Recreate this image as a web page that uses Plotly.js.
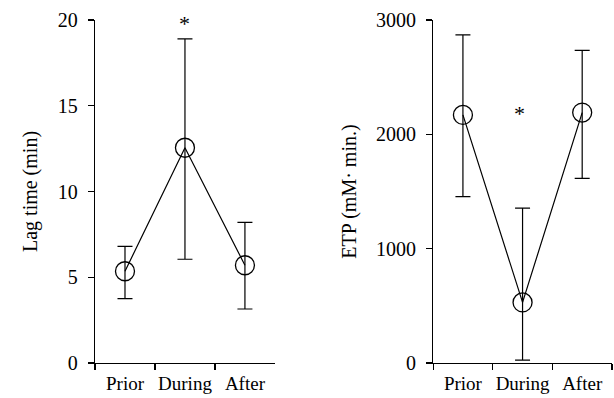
<!DOCTYPE html>
<html>
<head>
<meta charset="utf-8">
<script src="https://cdn.plot.ly/plotly-3.0.1.min.js"></script>
<style>html,body{margin:0;padding:0;background:#fff;}#chart{width:614px;height:398px;}</style>
</head>
<body>
<div id="chart"></div>
<script>
// Categories
const periods = ["Prior", "During", "After"];

// Left panel: Lag time (min)
const lagMean = [5.35, 12.55, 5.7];
const lagErrPlus = [1.45, 6.35, 2.5];
const lagErrMinus = [1.6, 6.5, 2.55];

// Right panel: ETP (mM·min.)
const etpMean = [2170, 530, 2190];
const etpErrPlus = [700, 825, 545];
const etpErrMinus = [715, 505, 575];

// Significance marks
const sigLabel = "*";
const lagSigY = 19.8;
const etpSigY = 2180;

const FONT = "Liberation Serif, Times New Roman, serif";

function makeTrace(y, ep, em, xa, ya) {
  return {
    type: "scatter", mode: "lines+markers",
    x: periods, y: y, xaxis: xa, yaxis: ya,
    line: {color: "#000", width: 1.2},
    marker: {symbol: "circle-open", size: 19, color: "#000", line: {width: 1.3, color: "#000"}},
    error_y: {type: "data", symmetric: false, array: ep, arrayminus: em,
              color: "#000", thickness: 1.2, width: 7.5},
    showlegend: false, hoverinfo: "skip"
  };
}

const data = [
  makeTrace(lagMean, lagErrPlus, lagErrMinus, "x", "y"),
  makeTrace(etpMean, etpErrPlus, etpErrMinus, "x2", "y2")
];

const xBase = {
  type: "category", range: [-0.5, 2.5], tickson: "boundaries", tickangle: 0,
  showline: true, linecolor: "#000", linewidth: 1.2,
  ticks: "outside", ticklen: 6, tickwidth: 1.2, tickcolor: "#000",
  showgrid: false, zeroline: false, fixedrange: true, ticklabelstandoff: 3,
  tickfont: {family: FONT, size: 19, color: "#000"}
};
const yBase = {
  showline: true, linecolor: "#000", linewidth: 1.2,
  ticks: "outside", ticklen: 6, tickwidth: 1.2, tickcolor: "#000",
  showgrid: false, zeroline: false, fixedrange: true, ticklabelstandoff: 6,
  tickfont: {family: FONT, size: 20, color: "#000"}
};

const layout = {
  width: 614, height: 398,
  margin: {l: 95, r: 2, t: 20, b: 35},
  paper_bgcolor: "#fff", plot_bgcolor: "#fff",
  font: {family: FONT, color: "#000"},
  xaxis: Object.assign({}, xBase, {domain: [0, 0.348], anchor: "y"}),
  yaxis: Object.assign({}, yBase, {range: [0, 20], tickvals: [0, 5, 10, 15, 20], anchor: "x",
    title: {text: "Lag time (min)", font: {family: FONT, size: 20, color: "#000"}, standoff: 14}}),
  xaxis2: Object.assign({}, xBase, {domain: [0.654, 1], anchor: "y2"}),
  yaxis2: Object.assign({}, yBase, {range: [0, 3000], tickvals: [0, 1000, 2000, 3000], anchor: "x2",
    title: {text: "ETP (mM· min.)", font: {family: FONT, size: 20, color: "#000"}, standoff: 14}}),
  annotations: [
    {xref: "x", yref: "y", x: "During", y: lagSigY, text: sigLabel, showarrow: false,
     font: {family: FONT, size: 22, color: "#000"}},
    {xref: "x2", yref: "y2", x: "During", y: etpSigY, text: sigLabel, showarrow: false, xshift: -3,
     font: {family: FONT, size: 22, color: "#000"}}
  ]
};

Plotly.newPlot("chart", data, layout, {displayModeBar: false, staticPlot: true});
</script>
</body>
</html>
